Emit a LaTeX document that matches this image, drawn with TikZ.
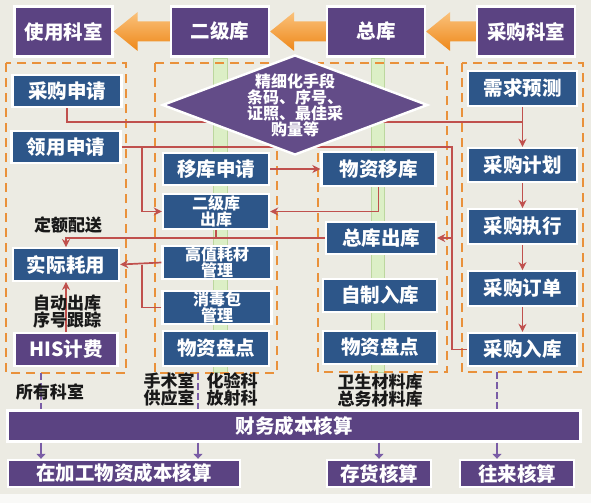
\documentclass[tikz,border=0pt]{standalone}
\usepackage{fontspec}
\newfontfamily\cjk{Noto Sans CJK SC}
\usetikzlibrary{arrows.meta,shapes.geometric,shadows,calc}
\definecolor{bgbeige}{HTML}{ECEBE3}
\definecolor{boxblue}{HTML}{2D5689}
\definecolor{boxpurple}{HTML}{5B4382}
\definecolor{dashorange}{HTML}{E9913B}
\definecolor{linkred}{HTML}{C0504D}
\definecolor{stripgreen}{HTML}{DCEFC6}
\definecolor{stripedge}{HTML}{BCD79E}
\definecolor{linkpurple}{HTML}{7A5DA6}
\definecolor{arrtop}{HTML}{FAC27C}
\definecolor{arrbottom}{HTML}{EE8718}
\begin{document}
\begin{tikzpicture}[x=1pt, y=-1pt,
  box/.style={draw=white, line width=2.4pt, text=white, align=center, inner sep=0pt,
    general shadow={fill=black!30, shadow xshift=1.2pt, shadow yshift=-1.2pt}},
  bluebox/.style={box, fill=boxblue, minimum width=109pt, minimum height=32.5pt,
    font=\cjk\bfseries\fontsize{19.5}{19.5}\selectfont},
  twoline/.style={bluebox, font=\cjk\bfseries\fontsize{16}{16.5}\selectfont},
  purplebox/.style={box, fill=boxpurple, minimum height=32.5pt,
    font=\cjk\bfseries\fontsize{19.5}{19.5}\selectfont},
  headbox/.style={purplebox, minimum width=98pt, minimum height=50pt,
    font=\cjk\bfseries\fontsize{19.5}{19.5}\selectfont},
  orangearr/.style={top color=arrtop, bottom color=arrbottom},
  region/.style={draw=dashorange, line width=2.6pt, dash pattern=on 9pt off 6pt},
  strip/.style={fill=stripgreen, draw=stripedge, line width=0.8pt},
  link/.style={draw=linkred, line width=1.7pt},
  tip/.style={-{Stealth[length=8pt,width=8pt]}},
  vlink/.style={draw=linkpurple, line width=2.4pt, dash pattern=on 7pt off 3pt},
  parrow/.style={draw=linkpurple, line width=2.6pt, -{Triangle[length=5pt,width=9pt]}},
  note/.style={font=\cjk\bfseries\fontsize{17}{17}\selectfont, text=black!90, align=center, inner sep=0pt}]
\useasboundingbox (0,0) rectangle (591,503);
\fill[bgbeige] (0,0) rectangle (591,503); %background
\fill[white!70!bgbeige] (0,494) rectangle (591,503);
\draw[strip] (213,58) rectangle (227,372); %green strip left
\draw[strip] (371,58) rectangle (384,372); %green strip right
\draw[region] (6,63) rectangle (126,373); %departments
\draw[region] (155,63) rectangle (277,373); %second store
\draw[region] (318,63) rectangle (447,372); %main store
\draw[region] (462,63) rectangle (583,372); %purchase
% top row
\node[headbox] (syks) at (63.5,31.5) {使用科室};
\node[headbox] (ejk) at (220,31.5) {二级库};
\node[headbox] (zk) at (376,31.5) {总库};
\node[headbox] (cgks) at (526,31.5) {采购科室};
\shade[orangearr] (syks.east) -- ++(24,-19.5) -- ++(0,9.5) -- ($(ejk.west)+(0,-10)$)
  -- ($(ejk.west)+(0,10)$) -- ($(syks.east)+(24,10)$) -- ++(0,9.5) -- cycle; %arrow to dept
\shade[orangearr] (ejk.east) -- ++(24,-19.5) -- ++(0,9.5) -- ($(zk.west)+(0,-10)$)
  -- ($(zk.west)+(0,10)$) -- ($(ejk.east)+(24,10)$) -- ++(0,9.5) -- cycle; %arrow to store
\shade[orangearr] (zk.east) -- ++(24,-19.5) -- ++(0,9.5) -- ($(cgks.west)+(0,-10)$)
  -- ($(cgks.west)+(0,10)$) -- ($(zk.east)+(24,10)$) -- ++(0,9.5) -- cycle; %arrow to main
% departments
\node[bluebox] (cgsq) at (67,91) {采购申请};
\node[bluebox] (lysq) at (66,147) {领用申请};
\node[bluebox, minimum width=106pt] (sjhy) at (66,264.5) {实际耗用};
\node[purplebox, minimum width=103pt] (his) at (66,349.5) {HIS计费};
% second store
\node[bluebox, minimum width=106pt] (yksq) at (216,169) {移库申请};
\node[twoline, minimum width=106pt, minimum height=34.5pt] (ejck) at (216,211.5) {二级库\\出库};
\node[twoline] (gzhc) at (217,262.5) {高值耗材\\管理};
\node[twoline] (xdb) at (217,307.5) {消毒包\\管理};
\node[bluebox, minimum width=106pt, minimum height=34.5pt] (pd1) at (216,348.5) {物资盘点};
% main store
\node[bluebox, minimum width=114pt, minimum height=34.5pt] (wzyk) at (378.5,169) {物资移库};
\node[bluebox, minimum width=110pt] (zkck) at (381,238) {总库出库};
\node[bluebox, minimum width=114pt] (zzrk) at (380,295.5) {自制入库};
\node[bluebox, minimum width=114pt] (pd2) at (380,347.5) {物资盘点};
% purchase
\node[bluebox, minimum height=34.5pt] (xqyc) at (522.5,88.5) {需求预测};
\node[bluebox, minimum height=34pt] (cgjh) at (522.5,165) {采购计划};
\node[bluebox, minimum height=34.5pt] (cgzx) at (522.5,226.5) {采购执行};
\node[bluebox, minimum height=34.5pt] (cgdd) at (522.5,288.5) {采购订单};
\node[bluebox, minimum height=33pt] (cgrk) at (522.5,349.5) {采购入库};
% junctions
\coordinate (jA) at (522.5,122);
\coordinate (jB) at (452,147);
\coordinate (jD) at (142,147);
\coordinate (jF) at (142,264.5);
\draw[link] (cgsq.south) |- (jA); %purchase request
\draw[link, tip] (xqyc.south) -- (cgjh.north);
\draw[link, tip] (cgjh.south) -- (cgzx.north);
\draw[link, tip] (cgzx.south) -- (cgdd.north);
\draw[link, tip] (cgdd.south) -- (cgrk.north);
\draw[link] (lysq.east) -- (jB) |- (cgrk.west); %use request
\draw[link, tip] (jB |- zkck.east) -- (zkck.east);
\draw[link, tip] (jD) |- (ejck.west);
\draw[link, tip] (yksq.east) -- (wzyk.west);
\draw[link, tip] (wzyk.south) |- (ejck.east);
\draw[link, tip] (zkck.west) -| (sjhy.north); %quota delivery
\draw[link] (ejck.south) -- (ejck.south |- zkck.west);
\draw[link, tip] (gzhc.west) -- (sjhy.east);
\draw[link] (xdb.west) -| (jF);
\draw[link, tip] (his.north) -- (sjhy.south);
% diamond
\node[diamond, draw=white, line width=2.4pt, fill=boxpurple!95!white, aspect=2.67, inner sep=0pt,
  minimum width=264pt, minimum height=100pt, text=white, align=center,
  font=\cjk\bfseries\fontsize{16}{16}\selectfont] (means) at (295,105)
  {精细化手段\\条码、序号、\\证照、最佳采\\购量等};
% accounting
\node[purplebox, minimum width=573pt, minimum height=31pt] (cwhs) at (294,426) {财务成本核算};
\node[purplebox, minimum width=232pt, minimum height=27pt] (zjg) at (124,473.5) {在加工物资成本核算};
\node[purplebox, minimum width=104pt, minimum height=27pt] (chhs) at (379,473.5) {存货核算};
\node[purplebox, minimum width=114pt, minimum height=27pt] (wlhs) at (517,473.5) {往来核算};
\coordinate (pA) at (41,373);
\coordinate (pB) at (198,373);
\coordinate (pC) at (497,372);
\draw[vlink] (pA) -- (pA |- cwhs.north);
\draw[vlink] (pB) -- (pB |- cwhs.north);
\draw[vlink] (pC) -- (pC |- cwhs.north);
\draw[parrow] (cwhs.south -| pA) -- (zjg.north -| pA);
\draw[parrow] (cwhs.south -| pB) -- (zjg.north -| pB);
\draw[parrow] (cwhs.south -| chhs.north) -- (chhs.north);
\draw[parrow] (cwhs.south -| pC) -- (wlhs.north -| pC);
% notes
\node[note] (dept) at (68,225) {定额配送};
\node[note] (auto) at (67,311.5) {自动出库\\序号跟踪};
\node[note] (alld) at (50,392) {所有科室};
\node[note] (ss) at (169,389) {手术室\\供应室};
\node[note] (hy) at (232,389) {化验科\\放射科};
\node[note] (wscl) at (380,391) {卫生材料库\\总务材料库};
\end{tikzpicture}
\end{document}
